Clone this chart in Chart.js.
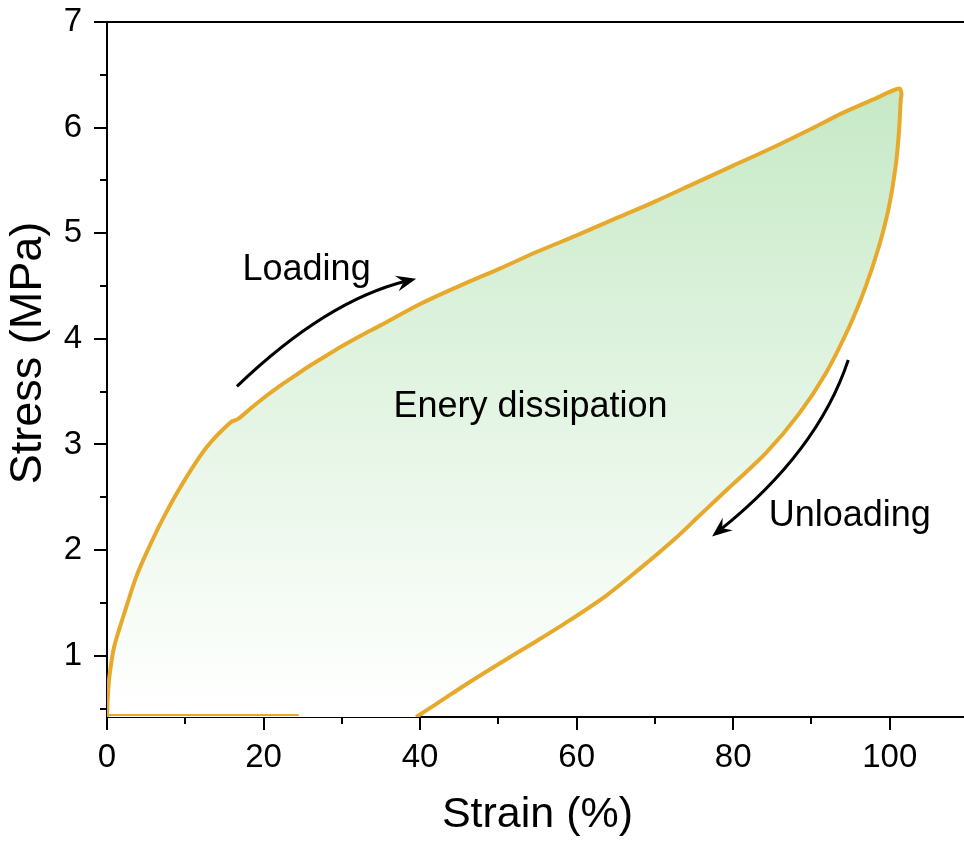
<!DOCTYPE html>
<html>
<head>
<meta charset="utf-8">
<script src="https://cdn.jsdelivr.net/npm/chart.js@4.4.1/dist/chart.umd.min.js"></script>
<style>
  html, body { margin: 0; padding: 0; background: #fff; overflow: hidden; }
  #wrap { width: 968px; height: 849px; }
</style>
</head>
<body>
<div id="wrap"><canvas id="loop" width="968" height="849"></canvas></div>
<script>
// stress-strain loop (strain %, stress MPa)
const loading = [
  {x: 0, y: 0.42}, {x: 0.1, y: 0.6}, {x: 0.3, y: 0.8}, {x: 0.9, y: 1.08},
  {x: 2.2, y: 1.40}, {x: 3.7, y: 1.74}, {x: 5.2, y: 2.00}, {x: 7.3, y: 2.32},
  {x: 9.9, y: 2.66}, {x: 12.8, y: 2.98}, {x: 15.8, y: 3.21}, {x: 16.7, y: 3.24},
  {x: 18, y: 3.32}, {x: 20, y: 3.44}, {x: 22, y: 3.55}, {x: 24, y: 3.65},
  {x: 26, y: 3.75}, {x: 28, y: 3.84}, {x: 30, y: 3.93}, {x: 32.4, y: 4.03},
  {x: 35, y: 4.13}, {x: 40, y: 4.33}, {x: 45, y: 4.50}, {x: 50, y: 4.66},
  {x: 54.8, y: 4.82}, {x: 60, y: 4.98}, {x: 65, y: 5.14}, {x: 70, y: 5.30},
  {x: 75, y: 5.47}, {x: 80, y: 5.64}, {x: 85, y: 5.81}, {x: 90, y: 5.99},
  {x: 94, y: 6.14}, {x: 98, y: 6.27}, {x: 101.2, y: 6.37}
];
const unloading = [
  {x: 101.5, y: 6.32}, {x: 101.4, y: 6.26}, {x: 101.2, y: 5.98}, {x: 100.8, y: 5.66},
  {x: 99.9, y: 5.25}, {x: 98.6, y: 4.87}, {x: 96.9, y: 4.49}, {x: 94.8, y: 4.11},
  {x: 91.8, y: 3.67}, {x: 88.4, y: 3.29}, {x: 84.2, y: 2.92}, {x: 79.9, y: 2.62},
  {x: 77.6, y: 2.46}, {x: 75.6, y: 2.32}, {x: 72.6, y: 2.11}, {x: 68, y: 1.82},
  {x: 63.8, y: 1.57}, {x: 59, y: 1.33}, {x: 54.9, y: 1.14}, {x: 50, y: 0.92},
  {x: 46.1, y: 0.74}, {x: 42, y: 0.54}, {x: 39.5, y: 0.42}
];
const baseline = [{x: 0, y: 0.44}, {x: 24.5, y: 0.44}];

const xTicks = [0, 20, 40, 60, 80, 100];
const xMinor = [10, 30, 50, 70, 90, 110];
const yTicks = [1, 2, 3, 4, 5, 6, 7];
const yMinor = [0.5, 1.5, 2.5, 3.5, 4.5, 5.5, 6.5];

const notes = [
  {text: 'Loading', x: 25.5, y: 4.65},
  {text: 'Enery dissipation', x: 54.1, y: 3.35},
  {text: 'Unloading', x: 94.9, y: 2.32}
];
const arrows = [
  {from: [16.6, 3.55], via: [28.0, 4.36], to: [39.5, 4.57]},
  {from: [94.7, 3.80], via: [90.8, 2.93], to: [77.3, 2.13]}
];

const FONT = "'Liberation Sans', Arial, sans-serif";
const ORANGE = '#E6A92C';

const decor = {
  id: 'decor',
  afterDraw(chart) {
    const {ctx, scales: {x, y}, chartArea: a} = chart;
    ctx.save();
    // minor ticks
    ctx.strokeStyle = '#000';
    ctx.lineWidth = 2;
    ctx.beginPath();
    xMinor.forEach(v => {
      const px = Math.round(x.getPixelForValue(v));
      ctx.moveTo(px, a.bottom); ctx.lineTo(px, a.bottom + 7);
    });
    yMinor.forEach(v => {
      const py = Math.round(y.getPixelForValue(v));
      ctx.moveTo(a.left, py); ctx.lineTo(a.left - 7, py);
    });
    ctx.stroke();

    // arrows
    ctx.lineWidth = 3;
    ctx.fillStyle = '#000';
    arrows.forEach(ar => {
      const p0 = [x.getPixelForValue(ar.from[0]), y.getPixelForValue(ar.from[1])];
      const c = [x.getPixelForValue(ar.via[0]), y.getPixelForValue(ar.via[1])];
      const p1 = [x.getPixelForValue(ar.to[0]), y.getPixelForValue(ar.to[1])];
      const ang = Math.atan2(p1[1] - c[1], p1[0] - c[0]);
      const ex = p1[0] - Math.cos(ang) * 10, ey = p1[1] - Math.sin(ang) * 10;
      ctx.beginPath();
      ctx.moveTo(p0[0], p0[1]);
      ctx.quadraticCurveTo(c[0], c[1], ex, ey);
      ctx.stroke();
      // barbed head
      ctx.save();
      ctx.translate(p1[0], p1[1]);
      ctx.rotate(ang);
      ctx.beginPath();
      ctx.moveTo(0, 0);
      ctx.lineTo(-20, -8);
      ctx.lineTo(-13, 0);
      ctx.lineTo(-20, 8);
      ctx.closePath();
      ctx.fill();
      ctx.restore();
    });

    // text notes
    ctx.fillStyle = '#000';
    ctx.font = '36px ' + FONT;
    ctx.textAlign = 'center';
    ctx.textBaseline = 'middle';
    notes.forEach(n => {
      ctx.fillText(n.text, x.getPixelForValue(n.x), y.getPixelForValue(n.y));
    });

    // y axis title
    ctx.font = '45px ' + FONT;
    ctx.translate(29, 353);
    ctx.rotate(-Math.PI / 2);
    ctx.fillText('Stress (MPa)', 0, 0);
    ctx.restore();
  }
};

new Chart(document.getElementById('loop'), {
  type: 'line',
  plugins: [decor],
  data: {
    datasets: [{
      label: 'Stress-strain loop',
      data: loading.concat(unloading),
      borderColor: ORANGE,
      borderWidth: 4,
      pointRadius: 0,
      tension: 0.3,
      fill: 'shape',
      order: 1,
      backgroundColor: (c) => {
        const chart = c.chart;
        if (!chart.chartArea) return 'rgba(0,0,0,0)';
        const ys = chart.scales.y;
        const g = chart.ctx.createLinearGradient(0, ys.getPixelForValue(6.4), 0, ys.getPixelForValue(0.5));
        g.addColorStop(0, 'rgb(198,233,198)');
        g.addColorStop(1, 'rgb(255,255,255)');
        return g;
      }
    }, {
      label: 'Rest',
      data: baseline,
      borderColor: ORANGE,
      borderWidth: 2,
      pointRadius: 0,
      fill: false,
      order: 0
    }]
  },
  options: {
    responsive: false,
    animation: false,
    layout: {padding: 0},
    plugins: {legend: {display: false}, tooltip: {enabled: false}},
    scales: {
      x: {
        type: 'linear', position: 'bottom', min: 0, max: 110,
        afterBuildTicks: (s) => { s.ticks = xTicks.map(v => ({value: v})); },
        afterFit: (s) => { s.height = 132; s.paddingLeft = 0; s.paddingRight = 0; },
        grid: {drawOnChartArea: false, drawTicks: true, tickLength: 13, color: '#000', lineWidth: 2},
        border: {display: true, color: '#000', width: 2},
        ticks: {color: '#000', font: {family: FONT, size: 33}, padding: 8, maxRotation: 0},
        title: {display: true, text: 'Strain (%)', color: '#000', font: {family: FONT, size: 43}, padding: {top: 0, bottom: 8}}
      },
      xTop: {
        type: 'linear', axis: 'x', position: 'top', min: 0, max: 110,
        afterFit: (s) => { s.height = 22; },
        grid: {display: false},
        border: {display: true, color: '#000', width: 2},
        ticks: {display: false}
      },
      y: {
        type: 'linear', min: 0.42, max: 7,
        afterBuildTicks: (s) => { s.ticks = yTicks.map(v => ({value: v})); },
        afterFit: (s) => { s.width = 107; s.paddingTop = 0; s.paddingBottom = 0; },
        grid: {drawOnChartArea: false, drawTicks: true, tickLength: 13, color: '#000', lineWidth: 2},
        border: {display: true, color: '#000', width: 2},
        ticks: {color: '#000', font: {family: FONT, size: 33}, padding: 12}
      }
    }
  }
});
</script>
</body>
</html>
